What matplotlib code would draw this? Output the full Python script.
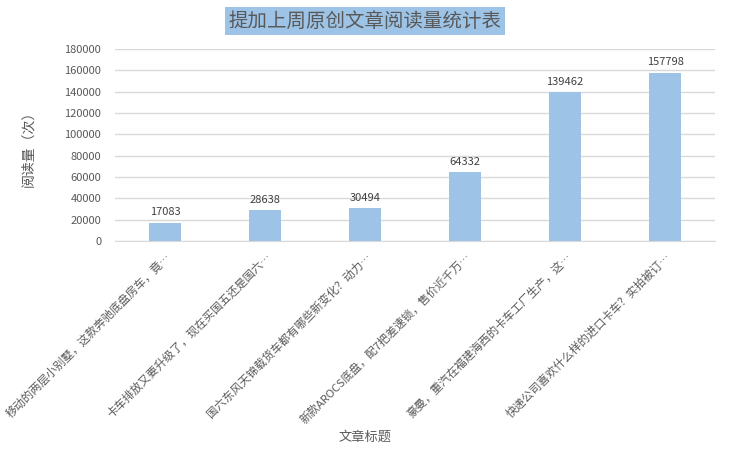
import numpy as np
import matplotlib
matplotlib.use('Agg')
import matplotlib.pyplot as plt

plt.rcParams['font.family'] = ['Noto Sans CJK SC', 'DejaVu Sans']

titles = ['移动的两层小别墅，这款奔驰底盘房车，竟…',
          '卡车排放又要升级了，现在买国五还是国六…',
          '国六东风天锦载货车都有哪些新变化？动力…',
          '新款AROCS底盘，配7把差速锁，售价近千万…',
          '豪曼，重汽在福建海西的卡车工厂生产，这…',
          '快递公司喜欢什么样的进口卡车？实拍被订…']
reads = [17083, 28638, 30494, 64332, 139462, 157798]
yticks = np.arange(0, 180001, 20000)

grey = '#595959'
bar_col = '#9DC3E6'

fig = plt.figure(figsize=(7.29, 4.59), dpi=100)
ax = fig.add_axes([0.158, 0.475, 0.823, 0.418])

x = np.arange(len(titles))
ax.bar(x, reads, width=0.32, color=bar_col, zorder=3)
for xi, v in zip(x, reads):
    ax.text(xi, v + 5000, str(v), ha='center', va='bottom', fontsize=8, color='#404040')

ax.set_xlim(-0.5, len(titles) - 0.5)
ax.set_ylim(0, 180000)
ax.set_yticks(yticks)
ax.set_yticklabels([str(t) for t in yticks], fontsize=8, color=grey)
ax.grid(axis='y', color='#D9D9D9', linewidth=1, zorder=0)
for s in ['top', 'right', 'left']:
    ax.spines[s].set_visible(False)
ax.spines['bottom'].set_color('#D9D9D9')
ax.tick_params(axis='both', length=0)
ax.tick_params(axis='y', pad=10)
ax.set_xticks(x)
ax.set_xticklabels(titles, rotation=45, ha='right', va='top', rotation_mode='anchor',
                   fontsize=8.2, color=grey)
ax.tick_params(axis='x', pad=7)

ax.set_ylabel('阅读量（次）', fontsize=10, color=grey, labelpad=21)
fig.text(365 / 729, 1 - 437 / 459, '文章标题', ha='center', va='center', fontsize=9.5, color=grey)

fig.text(365 / 729, 1 - 21 / 459, '提加上周原创文章阅读量统计表', ha='center', va='center',
         fontsize=14, color=grey,
         bbox=dict(boxstyle='square,pad=0.18', facecolor=bar_col, edgecolor='none'))

fig.savefig('out.png', dpi=100)
